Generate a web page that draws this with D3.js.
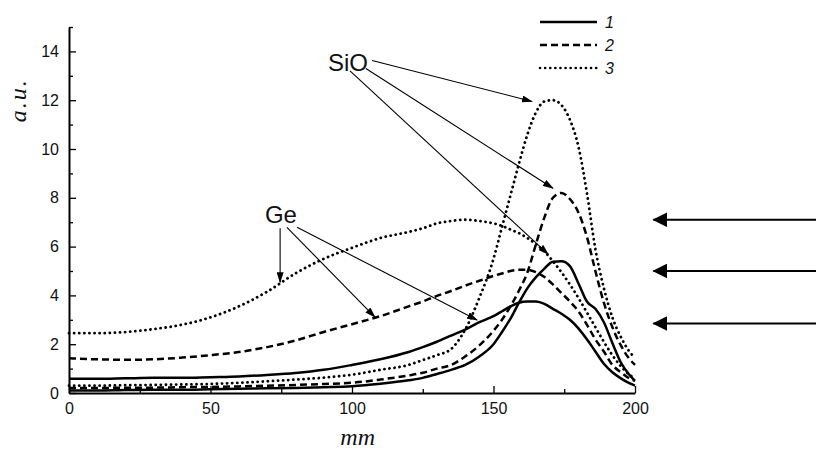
<!DOCTYPE html>
<html>
<head>
<meta charset="utf-8">
<script src="https://cdn.jsdelivr.net/npm/d3@7"></script>
<style>
  body { margin: 0; background: #fff; }
  text { font-family: "Liberation Sans", Arial, sans-serif; fill: #111; }
</style>
</head>
<body>
<div id="chart"></div>
<script>
// positions along the furnace (mm), shared by all six curves
const xs  = [0, 10, 20, 30, 40, 50, 60, 70, 80, 90, 100, 110, 120, 125, 130, 135, 140, 145, 150,
             153, 156, 159, 162, 165, 168, 171, 174, 177, 180, 183, 186, 189, 192, 195, 198, 200];

// curve 1 (solid)
const ge1 = [0.58, 0.58, 0.6, 0.62, 0.62, 0.65, 0.68, 0.74, 0.82, 0.95, 1.15, 1.38, 1.68, 1.88, 2.1, 2.35, 2.6, 2.9, 3.15,
             3.35, 3.55, 3.7, 3.75, 3.75, 3.65, 3.45, 3.25, 3.0, 2.65, 2.2, 1.7, 1.2, 0.85, 0.6, 0.4, 0.3];
const si1 = [0.1, 0.1, 0.12, 0.13, 0.13, 0.15, 0.17, 0.19, 0.21, 0.24, 0.28, 0.38, 0.52, 0.62, 0.78, 0.95, 1.15, 1.5, 2.0,
             2.5, 3.05, 3.7, 4.3, 4.75, 5.1, 5.38, 5.4, 5.2, 4.5, 3.75, 3.45, 2.9, 2.05, 1.25, 0.75, 0.5];
// curve 2 (dashed)
const ge2 = [1.42, 1.38, 1.36, 1.38, 1.45, 1.55, 1.68, 1.88, 2.15, 2.5, 2.82, 3.15, 3.55, 3.75, 3.98, 4.18, 4.4, 4.6, 4.8,
             4.9, 5.0, 5.05, 5.05, 4.95, 4.75, 4.45, 4.1, 3.75, 3.35, 2.8, 2.2, 1.7, 1.15, 0.85, 0.6, 0.5];
const si2 = [0.2, 0.2, 0.22, 0.22, 0.24, 0.25, 0.27, 0.3, 0.33, 0.37, 0.42, 0.55, 0.72, 0.83, 1.0, 1.15, 1.5, 1.95, 2.55,
             3.0, 3.55, 4.2, 4.95, 6.1, 7.2, 8.0, 8.2, 7.95, 7.4, 6.4, 5.0, 3.7, 2.7, 1.95, 1.4, 1.15];
// curve 3 (dotted)
const ge3 = [2.45, 2.45, 2.5, 2.62, 2.8, 3.1, 3.55, 4.15, 4.9, 5.5, 5.95, 6.35, 6.6, 6.75, 6.95, 7.05, 7.1, 7.05, 6.95,
             6.85, 6.7, 6.55, 6.35, 6.1, 5.8, 5.4, 4.95, 4.45, 3.9, 3.3, 2.7, 2.1, 1.55, 1.1, 0.75, 0.6];
const si3 = [0.3, 0.3, 0.32, 0.33, 0.35, 0.37, 0.42, 0.48, 0.55, 0.63, 0.75, 0.95, 1.15, 1.35, 1.55, 1.8, 2.6, 3.9, 5.5,
             6.8, 8.1, 9.4, 10.6, 11.5, 11.95, 12.0, 11.8, 11.2, 10.1, 8.2, 5.9, 4.3, 3.1, 2.3, 1.7, 1.45];

const xTicks = [0, 50, 100, 150, 200];
const yTicks = [0, 2, 4, 6, 8, 10, 12, 14];
const legendLabels = ["1", "2", "3"];

// annotation arrows, in data units: [x0, y0, x1, y1]
const sioArrows = [[107.1, 13.63, 163.6, 11.95], [104.9, 13.3, 171.0, 8.39], [99.3, 13.2, 169.3, 5.69]];
const geArrows  = [[74.6, 6.75, 74.6, 4.54], [77.0, 6.79, 108.1, 3.11], [80.6, 6.79, 144.2, 2.99]];
const levelArrows = [7.1, 5.0, 2.85];

////////////////
// DIMENSIONS //
////////////////

const svgWidth = 816, svgHeight = 456;

const svg = d3.select("#chart")
  .append("svg")
  .attr("width", svgWidth)
  .attr("height", svgHeight);

const x = d3.scaleLinear().domain([0, 200]).range([69, 635]);
const y = d3.scaleLinear().domain([0, 15]).range([393, 27]);

// arrow heads
const defs = svg.append("defs");
defs.append("marker")
  .attr("id", "headSmall")
  .attr("markerUnits", "userSpaceOnUse")
  .attr("markerWidth", 11).attr("markerHeight", 7)
  .attr("refX", 10).attr("refY", 3.5)
  .attr("orient", "auto")
  .append("path").attr("d", "M0,0 L11,3.5 L0,7 z").attr("fill", "#000");
defs.append("marker")
  .attr("id", "headBig")
  .attr("markerUnits", "userSpaceOnUse")
  .attr("markerWidth", 15).attr("markerHeight", 15)
  .attr("refX", 14).attr("refY", 7.5)
  .attr("orient", "auto")
  .append("path").attr("d", "M0,0 L15,7.5 L0,15 z").attr("fill", "#000");

//////////
// AXES //
//////////

const yAxis = d3.axisLeft(y).tickValues(yTicks).tickSizeInner(-7).tickSizeOuter(0).tickPadding(10);
const yMinor = d3.axisLeft(y).tickValues([1, 3, 5, 7, 9, 11, 13, 15]).tickSizeInner(-4).tickSizeOuter(0).tickFormat("");
const xAxis = d3.axisBottom(x).tickValues(xTicks).tickSizeInner(-7).tickSizeOuter(0).tickPadding(10);
const xMinor = d3.axisBottom(x).tickValues([25, 75, 125, 175]).tickSizeInner(-4).tickSizeOuter(0).tickFormat("");

svg.append("g").attr("transform", "translate(" + x(0) + ",0)").call(yMinor)
  .call(g => g.select(".domain").remove());
svg.append("g").attr("transform", "translate(0," + y(0) + ")").call(xMinor)
  .call(g => g.select(".domain").remove());

const gy = svg.append("g").attr("class", "y axis")
  .attr("transform", "translate(" + x(0) + ",0)")
  .call(yAxis);
const gx = svg.append("g").attr("class", "x axis")
  .attr("transform", "translate(0," + y(0) + ")")
  .call(xAxis);

svg.selectAll(".axis .domain").attr("stroke-width", 2).attr("stroke", "#000");
svg.selectAll(".tick line").attr("stroke", "#000").attr("stroke-width", 1.3);
svg.selectAll(".axis text")
  .style("font-size", "16px")
  .style("font-family", "Liberation Sans, Arial, sans-serif")
  .style("fill", "#111");

svg.append("text")
  .attr("transform", "translate(26," + y(12) + ") rotate(-90)")
  .attr("text-anchor", "middle")
  .style("font-family", "Liberation Serif, serif")
  .style("font-style", "italic")
  .style("font-size", "24px")
  .style("letter-spacing", "2px")
  .text("a.u.");

svg.append("text")
  .attr("x", x(102))
  .attr("y", 445)
  .attr("text-anchor", "middle")
  .style("font-family", "Liberation Serif, serif")
  .style("font-style", "italic")
  .style("font-size", "24px")
  .text("mm");

////////////
// CURVES //
////////////

const styles = [
  { dash: null, cap: "butt" },
  { dash: "7,4", cap: "butt" },
  { dash: "0.1,5", cap: "round" }
];

const series = [
  { values: ge1, style: 0 }, { values: si1, style: 0 },
  { values: ge2, style: 1 }, { values: si2, style: 1 },
  { values: ge3, style: 2 }, { values: si3, style: 2 }
];

const line = d3.line()
  .x(d => x(d[0]))
  .y(d => y(d[1]))
  .curve(d3.curveMonotoneX);

svg.selectAll(".curve")
  .data(series)
  .enter().append("path")
  .attr("class", "curve")
  .attr("fill", "none")
  .attr("stroke", "#000")
  .attr("stroke-width", d => d.style === 2 ? 2.8 : 2.5)
  .attr("stroke-linecap", d => styles[d.style].cap)
  .attr("stroke-dasharray", d => styles[d.style].dash)
  .attr("d", d => line(xs.map((v, i) => [v, d.values[i]])));

////////////
// LEGEND //
////////////

const legend = svg.append("g");
legendLabels.forEach(function (lab, i) {
  const ly = 22 + i * 23;
  legend.append("line")
    .attr("x1", 540).attr("x2", 597)
    .attr("y1", ly).attr("y2", ly)
    .attr("stroke", "#000")
    .attr("stroke-width", i === 2 ? 2.6 : 2.3)
    .attr("stroke-linecap", styles[i].cap)
    .attr("stroke-dasharray", styles[i].dash);
  legend.append("text")
    .attr("x", 605).attr("y", ly + 6)
    .style("font-style", "italic")
    .style("font-size", "16px")
    .text(lab);
});

/////////////////
// ANNOTATIONS //
/////////////////

svg.append("text")
  .attr("x", x(98.6)).attr("y", y(13.2))
  .attr("text-anchor", "middle")
  .style("font-size", "24px")
  .text("SiO");

svg.append("text")
  .attr("x", x(74.9)).attr("y", y(6.96))
  .attr("text-anchor", "middle")
  .style("font-size", "24px")
  .text("Ge");

svg.selectAll(".thinArrow")
  .data(sioArrows.concat(geArrows))
  .enter().append("line")
  .attr("class", "thinArrow")
  .attr("x1", d => x(d[0])).attr("y1", d => y(d[1]))
  .attr("x2", d => x(d[2])).attr("y2", d => y(d[3]))
  .attr("stroke", "#000")
  .attr("stroke-width", 1.1)
  .attr("marker-end", "url(#headSmall)");

svg.selectAll(".levelArrow")
  .data(levelArrows)
  .enter().append("line")
  .attr("class", "levelArrow")
  .attr("x1", svgWidth).attr("x2", x(206.5))
  .attr("y1", d => y(d)).attr("y2", d => y(d))
  .attr("stroke", "#000")
  .attr("stroke-width", 2)
  .attr("marker-end", "url(#headBig)");
</script>
</body>
</html>
